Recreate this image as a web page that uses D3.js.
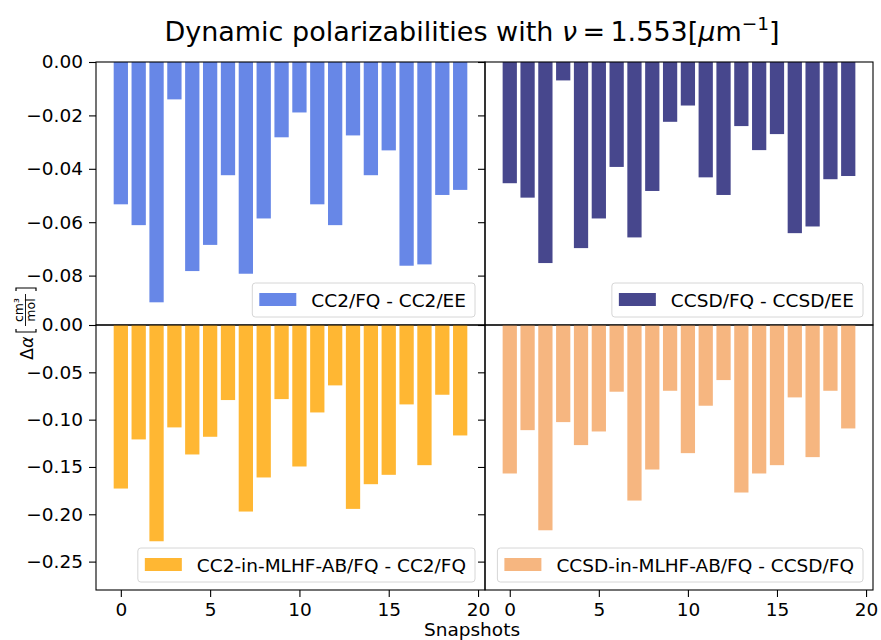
<!DOCTYPE html>
<html>
<head>
<meta charset="utf-8">
<script src="https://cdn.jsdelivr.net/npm/d3@7"></script>
<style>
  body { margin: 0; background: #fff; }
  text { font-family: "DejaVu Sans", sans-serif; fill: #000; }
</style>
</head>
<body>
<svg id="chart" width="881" height="640"></svg>
<script>
// snapshot index on x
var snapshots = [0,1,2,3,4,5,6,7,8,9,10,11,12,13,14,15,16,17,18,19];

// values
var cc2FqEe = [-0.0533,-0.0611,-0.0900,-0.0140,-0.0783,-0.0685,-0.0424,-0.0793,-0.0586,-0.0282,
               -0.0189,-0.0533,-0.0611,-0.0275,-0.0424,-0.0331,-0.0763,-0.0758,-0.0498,-0.0479];
var ccsdFqEe = [-0.0454,-0.0508,-0.0753,-0.0069,-0.0697,-0.0586,-0.0393,-0.0657,-0.0483,-0.0224,
                -0.0163,-0.0432,-0.0498,-0.0240,-0.0330,-0.0270,-0.0641,-0.0616,-0.0439,-0.0427];
var cc2Mlhf = [-0.1728,-0.1209,-0.2285,-0.1082,-0.1368,-0.1181,-0.0793,-0.1971,-0.1611,-0.0783,
               -0.1495,-0.0924,-0.0638,-0.1943,-0.1682,-0.1583,-0.0839,-0.1481,-0.0737,-0.1167];
var ccsdMlhf = [-0.1569,-0.1111,-0.2169,-0.1026,-0.1269,-0.1125,-0.0705,-0.1855,-0.1527,-0.0695,
                -0.1354,-0.0853,-0.0582,-0.1770,-0.1569,-0.1481,-0.0765,-0.1396,-0.0695,-0.1093];

var topTicks = [0, -0.02, -0.04, -0.06, -0.08];
var bottomTicks = [0, -0.05, -0.10, -0.15, -0.20, -0.25];
var xTicks = [0, 5, 10, 15, 20];

var svg = d3.select("#chart");
svg.append("rect").attr("width", 881).attr("height", 640).attr("fill", "#fff");

var colL = [96, 485], colR = [485, 873];
var rowT = [62, 325], rowB = [325, 590];

var panels = [
  {data: cc2FqEe,  col: colL, row: rowT, dom: [-0.0985, 0], ticks: topTicks,    labels: true,  xlab: false, color: "#6787e7", name: "CC2/FQ - CC2/EE"},
  {data: ccsdFqEe, col: colR, row: rowT, dom: [-0.0985, 0], ticks: topTicks,    labels: false, xlab: false, color: "#47478d", name: "CCSD/FQ - CCSD/EE"},
  {data: cc2Mlhf,  col: colL, row: rowB, dom: [-0.28, 0],   ticks: bottomTicks, labels: true,  xlab: true,  color: "#ffb733", name: "CC2-in-MLHF-AB/FQ - CC2/FQ"},
  {data: ccsdMlhf, col: colR, row: rowB, dom: [-0.28, 0],   ticks: bottomTicks, labels: false, xlab: true,  color: "#f6b680", name: "CCSD-in-MLHF-AB/FQ - CCSD/FQ"}
];

var fmt = d3.format(".2f");
var fs = "18.5px";

panels.forEach(function(p) {
  var x = d3.scaleLinear().domain([-1.39, 20.39]).range(p.col);
  var y = d3.scaleLinear().domain(p.dom).range([p.row[1], p.row[0]]);
  var g = svg.append("g");

  g.selectAll("rect.bar")
    .data(p.data)
    .enter()
    .append("rect")
    .attr("class", "bar")
    .attr("x", function(d, i) { return x(snapshots[i] - 0.4); })
    .attr("width", x(0.8) - x(0))
    .attr("y", y(0))
    .attr("height", function(d) { return y(d) - y(0); })
    .attr("fill", p.color);

  // y axis
  var ya = d3.axisLeft(y).tickValues(p.ticks).tickSize(7).tickPadding(6)
    .tickFormat(p.labels ? fmt : "");
  g.append("g").attr("transform", "translate(" + p.col[0] + ",0)").call(ya)
    .call(function(a) {
      a.select(".domain").remove();
      a.selectAll("line").attr("stroke", "#000").attr("stroke-width", 1.1);
      a.selectAll("text").style("font-size", fs).attr("font-family", "DejaVu Sans");
    });

  if (p.xlab) {
    var xa = d3.axisBottom(x).tickValues(xTicks).tickSize(7).tickPadding(6);
    g.append("g").attr("transform", "translate(0," + p.row[1] + ")").call(xa)
      .call(function(a) {
        a.select(".domain").remove();
        a.selectAll("line").attr("stroke", "#000").attr("stroke-width", 1.1);
        a.selectAll("text").style("font-size", fs).attr("font-family", "DejaVu Sans");
      });
  }

  // frame
  g.append("rect")
    .attr("x", p.col[0]).attr("y", p.row[0])
    .attr("width", p.col[1] - p.col[0]).attr("height", p.row[1] - p.row[0])
    .attr("fill", "none").attr("stroke", "#000").attr("stroke-width", 1.1);

  // legend, lower right
  var lg = g.append("g");
  var box = lg.append("rect").attr("rx", 3).attr("ry", 3)
    .attr("fill", "#fff").attr("fill-opacity", 0.8)
    .attr("stroke", "#d6d6d6").attr("stroke-width", 1);
  var txt = lg.append("text").attr("font-size", fs).text(p.name);
  var tw = txt.node().getComputedTextLength();
  var bw = 7 + 37 + 15 + tw + 9, bh = 34;
  var bx = p.col[1] - 10 - bw, by = p.row[1] - 8 - bh;
  box.attr("x", bx).attr("y", by).attr("width", bw).attr("height", bh);
  lg.append("rect").attr("x", bx + 7).attr("y", by + 10).attr("width", 37).attr("height", 13)
    .attr("fill", p.color);
  txt.attr("x", bx + 7 + 37 + 15).attr("y", by + 23.5);
});

// title
var title = svg.append("text").attr("x", 472).attr("y", 41).attr("text-anchor", "middle")
  .attr("font-size", "27px");
title.append("tspan").text("Dynamic polarizabilities with ");
title.append("tspan").attr("font-style", "italic").text("ν");
title.append("tspan").text("\u2009=\u20091.553[");
title.append("tspan").attr("font-style", "italic").text("μ");
title.append("tspan").text("m");
title.append("tspan").attr("font-size", "18.5px").attr("dy", -11).text("−1");
title.append("tspan").attr("dy", 11).text("]");

// x label
svg.append("text").attr("x", 472).attr("y", 636).attr("text-anchor", "middle")
  .attr("font-size", fs).text("Snapshots");

// y label: Δα [cm³/mol], rotated
var yl = svg.append("g").attr("transform", "translate(33,324) rotate(-90)");
var yt = yl.append("text").attr("x", -36).attr("y", 0).attr("font-size", "17.5px");
yt.append("tspan").text("Δ");
yt.append("tspan").attr("font-style", "italic").text("α");
yl.append("path").attr("d", "M-5,-17 H-8 V3 H-5").attr("fill", "none").attr("stroke", "#000").attr("stroke-width", 1.2);
yl.append("path").attr("d", "M33,-17 H36 V3 H33").attr("fill", "none").attr("stroke", "#000").attr("stroke-width", 1.2);
yl.append("text").attr("x", 14).attr("y", -10).attr("text-anchor", "middle").attr("font-size", "12.5px").text("cm³");
yl.append("line").attr("x1", -2).attr("x2", 30).attr("y1", -7.5).attr("y2", -7.5).attr("stroke", "#000").attr("stroke-width", 0.9);
yl.append("text").attr("x", 14).attr("y", 2).attr("text-anchor", "middle").attr("font-size", "12.5px").text("mol");
</script>
</body>
</html>
